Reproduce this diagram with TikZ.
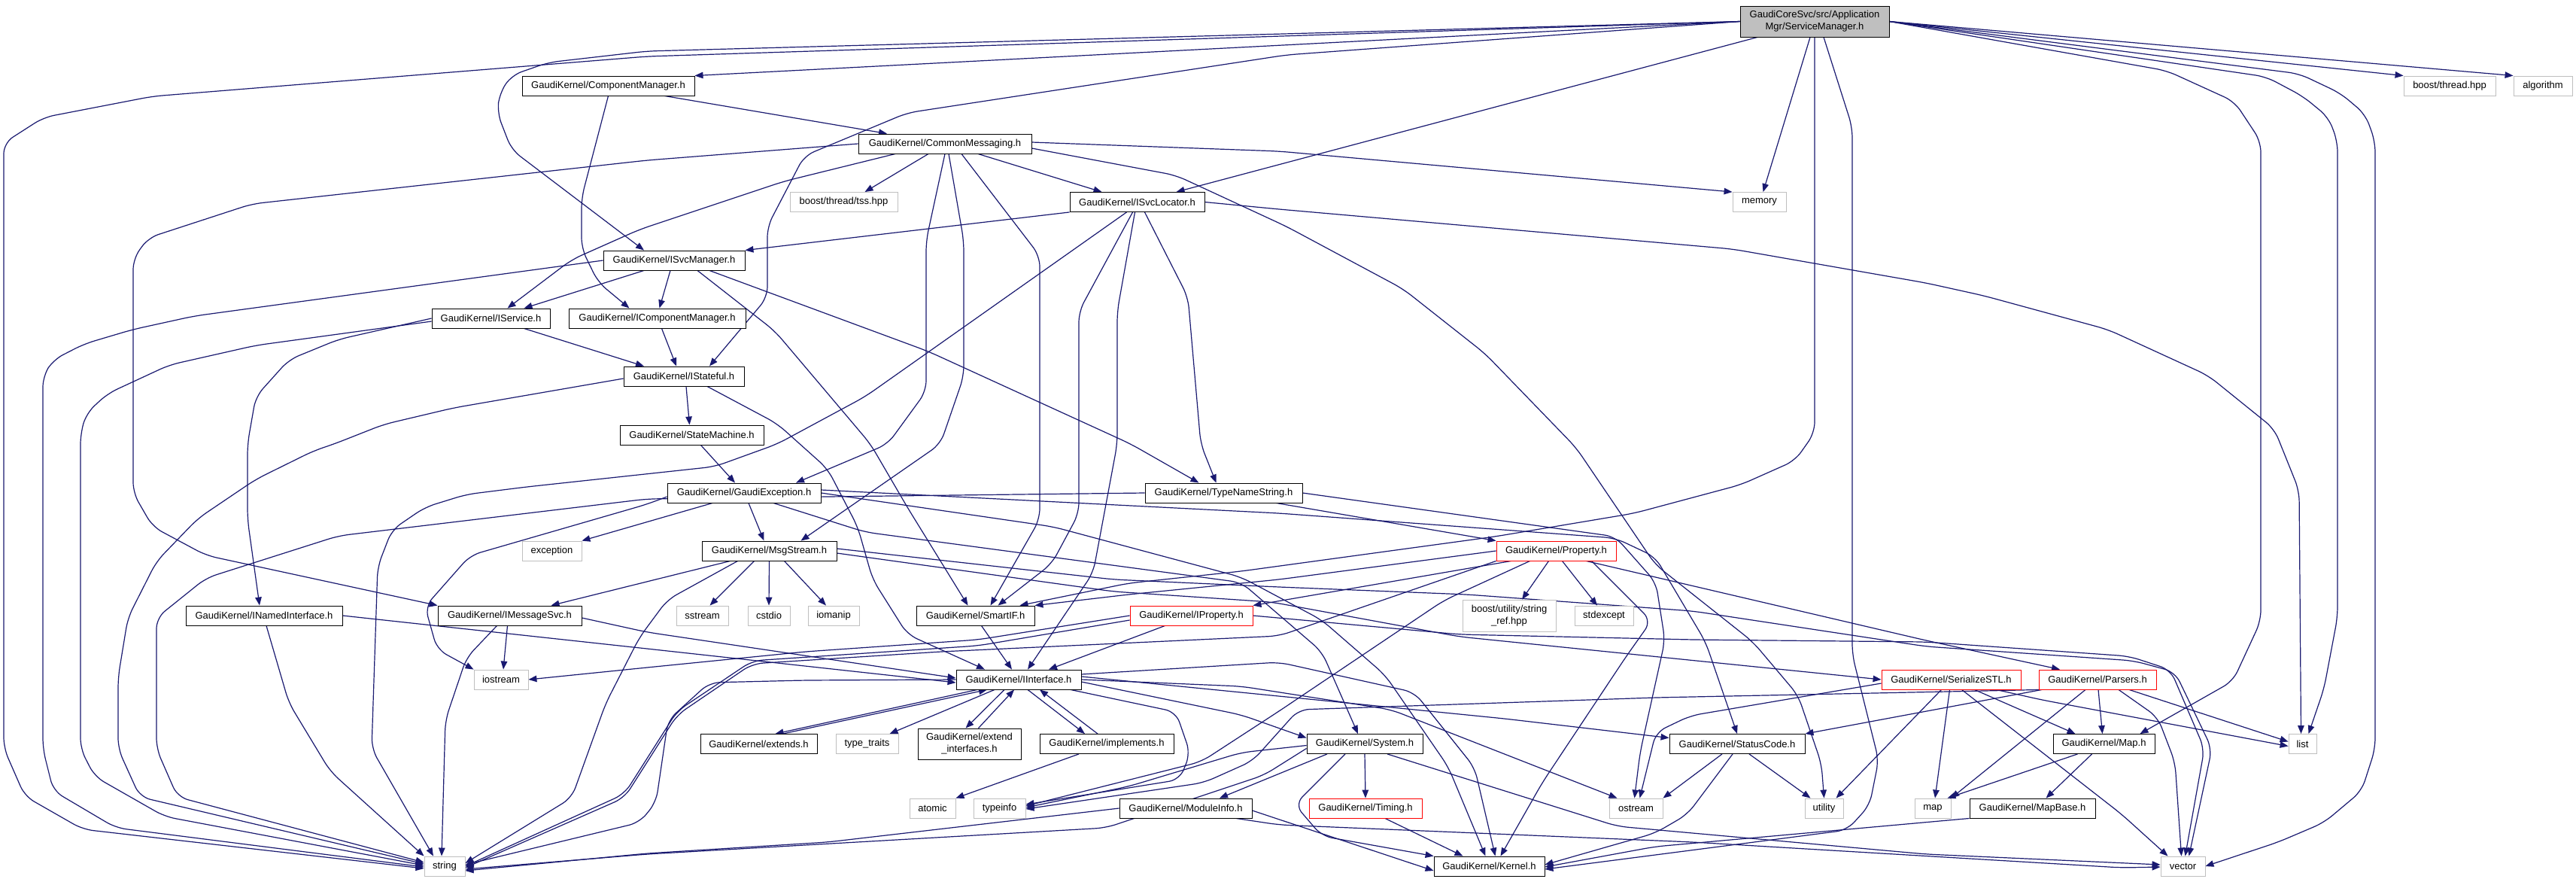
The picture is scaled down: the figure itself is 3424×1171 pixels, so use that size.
\documentclass[tikz,border=0pt]{standalone}
\usepackage{fontspec}
\setmainfont{Liberation Sans}
\usetikzlibrary{arrows.meta}
\definecolor{edgecol}{HTML}{191970}
\definecolor{extgray}{HTML}{BFBFBF}
\pgfdeclarelayer{bg}
\pgfsetlayers{bg,main}
\tikzset{
 nd/.style={rectangle, draw=black, fill=white, line width=0.9pt, inner sep=0pt, minimum height=26pt, font=\fontsize{13}{16}\selectfont, align=center},
 ext/.style={nd, draw=extgray},
 trunc/.style={nd, draw=red},
 rootnd/.style={nd, fill=extgray},
 ed/.style={draw=edgecol, line width=1.2pt, -{Triangle[length=11pt,width=8.5pt]}, rounded corners=14pt},
}
\begin{document}
\begin{tikzpicture}[x=1pt,y=-1pt]
\path[use as bounding box] (0,0) rectangle (3424,1171);
% nodes
\node[rootnd, minimum width=198pt, minimum height=41pt] (main) at (2412,28.5) {GaudiCoreSvc/src/Application\\Mgr/ServiceManager.h};
\node[nd, minimum width=229pt] (CM) at (808.5,114) {GaudiKernel/ComponentManager.h};
\node[ext, minimum width=122pt] (bthread) at (3256,114) {boost/thread.hpp};
\node[ext, minimum width=78pt] (algorithm) at (3380,114) {algorithm};
\node[nd, minimum width=230pt] (CMsg) at (1256,191) {GaudiKernel/CommonMessaging.h};
\node[ext, minimum width=143pt] (tss) at (1121.5,268.5) {boost/thread/tss.hpp};
\node[nd, minimum width=179pt] (SL) at (1511.5,268.5) {GaudiKernel/ISvcLocator.h};
\node[ext, minimum width=71pt] (memory) at (2338.5,268.5) {memory};
\node[nd, minimum width=188pt] (SM) at (896,346) {GaudiKernel/ISvcManager.h};
\node[nd, minimum width=157pt] (IService) at (652.5,423) {GaudiKernel/IService.h};
\node[nd, minimum width=235pt] (ICM) at (873.5,423) {GaudiKernel/IComponentManager.h};
\node[nd, minimum width=160pt] (IStateful) at (909,500) {GaudiKernel/IStateful.h};
\node[nd, minimum width=191pt] (StateM) at (919.5,578) {GaudiKernel/StateMachine.h};
\node[nd, minimum width=204pt] (GE) at (989,655) {GaudiKernel/GaudiException.h};
\node[nd, minimum width=209pt] (TNS) at (1626.5,655) {GaudiKernel/TypeNameString.h};
\node[ext, minimum width=79pt] (exception) at (733.5,732) {exception};
\node[nd, minimum width=179pt] (MsgS) at (1022.5,732) {GaudiKernel/MsgStream.h};
\node[trunc, minimum width=159pt] (Prop) at (2068.5,732) {GaudiKernel/Property.h};
\node[nd, minimum width=208pt] (INamed) at (351,818) {GaudiKernel/INamedInterface.h};
\node[nd, minimum width=191pt] (IMsgSvc) at (677.5,818) {GaudiKernel/IMessageSvc.h};
\node[ext, minimum width=69pt] (sstream) at (933.5,818) {sstream};
\node[ext, minimum width=56pt] (cstdio) at (1022,818) {cstdio};
\node[ext, minimum width=68pt] (iomanip) at (1108,818) {iomanip};
\node[nd, minimum width=157pt] (SmartIF) at (1296.5,818) {GaudiKernel/SmartIF.h};
\node[trunc, minimum width=163pt] (IProp) at (1583.5,818) {GaudiKernel/IProperty.h};
\node[ext, minimum width=124pt, minimum height=42pt] (strref) at (2006,818) {boost/utility/string\\\_ref.hpp};
\node[ext, minimum width=78pt] (stdexcept) at (2132,818) {stdexcept};
\node[ext, minimum width=72pt] (iostream) at (666,903) {iostream};
\node[nd, minimum width=166pt] (II) at (1354,903) {GaudiKernel/IInterface.h};
\node[trunc, minimum width=185pt] (SerSTL) at (2593.5,903) {GaudiKernel/SerializeSTL.h};
\node[trunc, minimum width=156pt] (Parsers) at (2788,903) {GaudiKernel/Parsers.h};
\node[nd, minimum width=155pt] (extends) at (1008.5,988.5) {GaudiKernel/extends.h};
\node[ext, minimum width=83pt] (typetraits) at (1152.5,988.5) {type\_traits};
\node[nd, minimum width=137pt, minimum height=41pt] (extif) at (1288.5,988.5) {GaudiKernel/extend\\\_interfaces.h};
\node[nd, minimum width=178pt] (impl) at (1471,988.5) {GaudiKernel/implements.h};
\node[nd, minimum width=154pt] (System) at (1814,988.5) {GaudiKernel/System.h};
\node[nd, minimum width=180pt] (SC) at (2309,988.5) {GaudiKernel/StatusCode.h};
\node[nd, minimum width=135pt] (Map) at (2796.5,988.5) {GaudiKernel/Map.h};
\node[ext, minimum width=37pt] (list) at (3060.5,988.5) {list};
\node[ext, minimum width=61pt] (atomic) at (1239.5,1074) {atomic};
\node[ext, minimum width=69pt] (typeinfo) at (1328.5,1074) {typeinfo};
\node[nd, minimum width=176pt] (ModInfo) at (1576,1074) {GaudiKernel/ModuleInfo.h};
\node[trunc, minimum width=150pt] (Timing) at (1815,1074) {GaudiKernel/Timing.h};
\node[ext, minimum width=71pt] (ostream) at (2174.5,1074) {ostream};
\node[ext, minimum width=51pt] (utility) at (2424.5,1074) {utility};
\node[ext, minimum width=48pt] (map) at (2569,1074) {map};
\node[nd, minimum width=167pt] (MapBase) at (2701.5,1074) {GaudiKernel/MapBase.h};
\node[ext, minimum width=54pt] (string) at (591,1151) {string};
\node[nd, minimum width=147pt] (Kernel) at (1979.5,1151) {GaudiKernel/Kernel.h};
\node[ext, minimum width=59pt] (vector) at (2901.5,1151) {vector};

\begin{pgfonlayer}{bg}
\fill[white] (0,0) rectangle (3424,1171);
% ServiceManager.h
\draw[ed] (main.west) -- (860,75) -- (203,128) -- (58,156) -- (5,190) -- (5,994) -- (33,1058) -- (110,1102) -- ([yshift=-3pt]string.west);
\draw[ed] (main.west) -- (CM.north east);
\draw[ed] (main.west) -- (860,68) -- (729,83) -- (680,100) -- (664,124) -- (661,150) -- (680,199) -- ([xshift=-40pt]SM.north);
\draw[ed] (main.west) -- (1710,73) -- (1206,150) -- (1069,207) -- (1020,301) -- (1020,395) -- ([xshift=34pt]IStateful.north);
\draw[ed] ([xshift=-76pt]main.south) -- ([xshift=52pt]SL.north);
\draw[ed] ([xshift=-6pt]main.south) -- ([xshift=5pt]memory.north);
\draw[ed] (main.south) -- (2412,575) -- (2386,612) -- (2314,644) -- (2172,682) -- (1987,713) -- (1650,759) -- (1500,775) -- ([xshift=-20pt]SmartIF.north east);
\draw[ed] ([xshift=12pt]main.south) -- (2462,169) -- (2462,870) -- (2497,1010) -- (2485,1070) -- (2455,1103) -- ([yshift=-4pt]Kernel.east);
\draw[ed] (main.east) -- (2880,94) -- (2970,135) -- (3005,188) -- (3005,825) -- (2968,905) -- ([xshift=-20pt]Map.north east);
\draw[ed] (main.east) -- (3012,102) -- (3061,128) -- (3095,156) -- (3107,188) -- (3107,820) -- (3089,915) -- ([xshift=8pt]list.north);
\draw[ed] (main.east) -- (3056,98) -- (3111,124) -- (3144,152) -- (3157,188) -- (3157,995) -- (3139,1051) -- (3089,1093) -- (3028,1119) -- (vector.east);
\draw[ed] (main.east) -- (bthread.north west);
\draw[ed] (main.east) -- (algorithm.north west);
% ComponentManager.h
\draw[ed] ([xshift=75pt]CM.south) -- ([xshift=-77pt]CMsg.north);
\draw[ed] (CM.south) -- (773,263) -- (773,330) -- (795,375) -- ([xshift=-37pt]ICM.north);
% CommonMessaging.h
\draw[ed] ([xshift=-66pt]CMsg.south) -- (1042,241) -- (850,305) -- (760,345) -- ([xshift=22pt]IService.north);
\draw[ed] (CMsg.west) -- (860,213) -- (335,271) -- (197,316) -- (177,344) -- (177,655) -- (203,700) -- (274,738) -- (IMsgSvc.north west);
\draw[ed] ([xshift=-22pt]CMsg.south) -- ([xshift=28pt]tss.north);
\draw[ed] (CMsg.south) -- (1231,320) -- (1231,520) -- (1180,590) -- ([xshift=69pt]GE.north);
\draw[ed] ([xshift=5pt]CMsg.south) -- (1281,320) -- (1281,500) -- (1250,590) -- ([xshift=42pt]MsgS.north);
\draw[ed] ([xshift=22pt]CMsg.south) -- (1382,340) -- (1382,690) -- ([xshift=20pt]SmartIF.north);
\draw[ed] ([xshift=44pt]CMsg.south) -- ([xshift=-47pt]SL.north);
\draw[ed] ([yshift=2pt]CMsg.east) -- (1700,201) -- (memory.north west);
\draw[ed] ([yshift=-6pt]CMsg.east) -- (1563,233) -- (1710,301) -- (1865,384) -- (1974,470) -- (2095,595) -- (2200,750) -- (2330,853) -- (2390,924) -- (2421,1015) -- (utility.north);
% ISvcLocator.h
\draw[ed] (SL.south west) -- (SM.north east);
\draw[ed] ([xshift=-14pt]SL.south) -- (1150,527) -- (1033,590) -- (950,620) -- (700,647) -- (620,657) -- (565,674) -- (521,704) -- (502,753) -- (494,995) -- ([xshift=-15pt]string.north);
\draw[ed] ([xshift=-6pt]SL.south) -- (1434,414) -- (1434,682) -- (1398,749) -- ([xshift=30pt]SmartIF.north);
\draw[ed] ([xshift=-3pt]SL.south) -- (1485,414) -- (1485,590) -- (1453,761) -- ([xshift=12pt]II.north);
\draw[ed] ([xshift=10pt]SL.south) -- (1579,395) -- (1596,590) -- ([xshift=-10pt]TNS.north);
\draw[ed] (SL.east) -- (1700,278) -- (2303,331) -- (2560,376) -- (2637,393) -- (2802,438) -- (2935,499) -- (3023,570) -- (3056,652) -- ([xshift=-2pt]list.north);
% ISvcManager.h
\draw[ed] ([xshift=-40pt]SM.south) -- ([xshift=44pt]IService.north);
\draw[ed] ([xshift=-5pt]SM.south) -- ([xshift=3pt]ICM.north);
\draw[ed] (SM.west) -- (258,420) -- (176,438) -- (112,457) -- (71,478) -- (57,500) -- (57,995) -- (71,1051) -- (154,1100) -- ([yshift=-1pt]string.west);
\draw[ed] ([xshift=31pt]SM.south) -- (1030,440) -- (1157,590) -- (1206,674) -- ([xshift=-10pt]SmartIF.north);
\draw[ed] ([xshift=47pt]SM.south) -- (1234,467) -- (1503,590) -- ([xshift=-33pt]TNS.north);
% IService.h
\draw[ed] ([xshift=44pt]IService.south) -- ([xshift=-53pt]IStateful.north);
\draw[ed] (IService.west) -- (450,451) -- (384,478) -- (340,527) -- (329,590) -- (329,690) -- ([xshift=-6pt]INamed.north);
\draw[ed] ([yshift=-4pt]IService.west) -- (340,459) -- (225,485) -- (143,523) -- (115,549) -- (107,576) -- (107,995) -- (126,1032) -- (219,1085) -- ([yshift=1pt]string.west);
% IComponentManager.h
\draw[ed] ([xshift=6pt]ICM.south) -- ([xshift=-10pt]IStateful.north);
% IStateful.h
\draw[ed] ([xshift=3pt]IStateful.south) -- ([xshift=-3pt]StateM.north);
\draw[ed] ([yshift=-3pt]IStateful.west) -- (603,542) -- (510,564) -- (444,590) -- (417,599) -- (340,637) -- (263,689) -- (208,746) -- (170,821) -- (157,900) -- (157,995) -- (186,1059) -- ([yshift=3pt]string.west);
\draw[ed] ([xshift=31pt]IStateful.south) -- (1033,563) -- (1100,623) -- (1140,700) -- (1160,770) -- (1206,843) -- ([xshift=-45pt]II.north);
% StateMachine.h
\draw[ed] ([xshift=12pt]StateM.south) -- ([xshift=-12pt]GE.north);
% GaudiException.h
\draw[ed] ([xshift=-42pt]GE.south) -- (exception.north east);
\draw[ed] ([xshift=6pt]GE.south) -- ([xshift=-7pt]MsgS.north);
\draw[ed] ([yshift=-5pt]GE.west) -- (860,670) -- (625,738) -- (565,806) -- (581,863) -- (iostream.north west);
\draw[ed] (GE.east) -- (1400,700) -- (1650,767) -- (1757,824) -- (1841,897) -- (1925,1019) -- ([xshift=-5pt]Kernel.north);
\draw[ed] ([yshift=4pt]GE.east) -- (1700,682) -- (2147,715) -- (2200,740) -- (2267,853) -- (SC.north);
\draw[ed] ([xshift=39pt]GE.south) -- (1150,707) -- (1650,774) -- (1757,866) -- ([xshift=-9pt]System.north);
% TypeNameString.h
\draw[ed] ([xshift=70pt]TNS.south) -- (Prop.north west);
\draw[ed] (TNS.east) -- (2147,713) -- (2201,774) -- (2213,851) -- (2180,1000) -- ([xshift=-2pt]ostream.north);
\draw[ed] (TNS.west) -- (1100,660) -- (860,663) -- (450,712) -- (274,768) -- (208,821) -- (208,995) -- (236,1059) -- ([yshift=5pt]string.west);
% MsgStream.h
\draw[ed] ([xshift=-52pt]MsgS.south) -- ([xshift=55pt]IMsgSvc.north);
\draw[ed] ([xshift=-20pt]MsgS.south) -- ([xshift=10pt]sstream.north);
\draw[ed] (MsgS.south) -- (cstdio.north);
\draw[ed] ([xshift=20pt]MsgS.south) -- ([xshift=-10pt]iomanip.north);
\draw[ed] ([xshift=-42pt]MsgS.south) -- (887,797) -- (850,847) -- (805,935) -- (760,1060) -- ([yshift=4pt]string.east);
\draw[ed] ([yshift=-3pt]MsgS.east) -- (1480,786) -- (1690,800) -- (1940,846) -- (SerSTL.west);
\draw[ed] ([yshift=3pt]MsgS.east) -- (1480,770) -- (1700,780) -- (1950,790) -- (2250,812) -- (2560,859) -- (2836,878) -- (2891,893) -- (2940,995) -- ([xshift=8pt]vector.north);
% SmartIF / IProperty
\draw[ed] ([xshift=8pt]SmartIF.south) -- ([xshift=-9pt]II.north);
\draw[ed] ([xshift=-35pt]IProp.south) -- ([xshift=40pt]II.north);
\draw[ed] (IProp.west) -- (1300,850) -- (1070,866) -- (860,887) -- (iostream.east);
\draw[ed] ([yshift=-6pt]IProp.west) -- (1300,858) -- (1000,878) -- (900,945) -- (830,1055) -- ([yshift=0pt]string.east);
\draw[ed] (IProp.east) -- (1940,843) -- (2250,850) -- (2560,853) -- (2830,872) -- (2885,890) -- (2930,995) -- ([xshift=3pt]vector.north);
% IInterface.h
\draw[ed] ([xshift=-55pt]II.south) -- ([xshift=22pt]extends.north);
\draw[ed] ([xshift=32pt]extends.north) -- ([xshift=-42pt]II.south);
\draw[ed] ([xshift=-32pt]II.south) -- ([xshift=30pt]typetraits.north);
\draw[ed] ([xshift=-19pt]II.south) -- ([xshift=-5pt]extif.north);
\draw[ed] ([xshift=12pt]extif.north) -- ([xshift=-6pt]II.south);
\draw[ed] ([xshift=12pt]II.south) -- ([xshift=-29pt]impl.north);
\draw[ed] ([xshift=-12pt]impl.north) -- ([xshift=28pt]II.south);
\draw[ed] ([xshift=-37pt]impl.south) -- (atomic.north east);
\draw[ed] ([xshift=69pt]II.south) -- (1563,946) -- (1582,1001) -- (1568,1036) -- ([yshift=5pt]typeinfo.east);
\draw[ed] ([yshift=-3pt]II.east) -- (1650,950) -- ([yshift=8pt]System.west);
\draw[ed] ([yshift=4pt]II.east) -- (1750,930) -- (2000,955) -- ([yshift=8pt]SC.west);
\draw[ed] ([yshift=7pt]II.east) -- (1700,880) -- (1880,920) -- (1960,1020) -- ([xshift=8pt]Kernel.north);
\draw[ed] (II.east) -- (1650,912) -- (1849,943) -- ([xshift=-25pt]ostream.north);
\draw[ed] (II.west) -- (1069,904) -- (943,907) -- (888,957) -- (872,1066) -- (850,1093) -- ([yshift=2pt]string.east);
% INamedInterface / IMessageSvc
\draw[ed] (INamed.east) -- (860,862) -- ([yshift=-4pt]II.west);
\draw[ed] ([xshift=3pt]INamed.south) -- (384,934) -- (439,1025) -- (string.north west);
\draw[ed] ([yshift=-3pt]IMsgSvc.east) -- (860,840) -- ([yshift=2pt]II.west);
\draw[ed] ([xshift=-3pt]IMsgSvc.south) -- ([xshift=3pt]iostream.north);
\draw[ed] ([xshift=-17pt]IMsgSvc.south) -- (620,874) -- (592,957) -- ([xshift=-4pt]string.north);
% System.h
\draw[ed] (System.south) -- (Timing.north);
\draw[ed] ([xshift=-50pt]System.south) -- ([xshift=45pt]ModInfo.north);
\draw[ed] ([xshift=-26pt]System.south) -- (1721,1069) -- (1757,1111) -- (Kernel.north west);
\draw[ed] ([yshift=-6pt]System.west) -- (1680,1030) -- (1470,1100) -- (860,1135) -- ([yshift=-4pt]string.east);
\draw[ed] ([yshift=-2pt]System.west) -- (1650,1000) -- (1500,1045) -- ([yshift=1pt]typeinfo.east);
\draw[ed] ([xshift=30pt]System.south) -- (2150,1098) -- (2560,1135) -- ([yshift=2pt]vector.west);
% Timing / ModuleInfo
\draw[ed] ([xshift=26pt]Timing.south) -- ([xshift=-35pt]Kernel.north);
\draw[ed] (ModInfo.west) -- (1100,1119) -- (860,1134) -- ([yshift=-6pt]string.east);
\draw[ed] ([yshift=-3pt]ModInfo.east) -- ([yshift=-6pt]Kernel.west);
\draw[ed] ([xshift=67pt]ModInfo.south) -- (1700,1096) -- (2250,1119) -- (2820,1153) -- ([yshift=-1pt]vector.west);
% Property.h
\draw[ed] ([xshift=-60pt]Prop.south) -- (IProp.north east);
\draw[ed] ([xshift=-10pt]Prop.south) -- ([xshift=17pt]strref.north);
\draw[ed] ([xshift=8pt]Prop.south) -- ([xshift=-9pt]stdexcept.north);
\draw[ed] ([xshift=47pt]Prop.south) -- (2195,825) -- (2161,873) -- (2050,1040) -- ([xshift=15pt]Kernel.north);
\draw[ed] (Prop.west) -- (1700,770) -- (1500,790) -- (SmartIF.north east);
\draw[ed] ([xshift=40pt]Prop.south) -- (2560,851) -- ([xshift=-50pt]Parsers.north);
\draw[ed] (Prop.south west) -- (1700,845) -- (1250,866) -- (1000,882) -- (900,950) -- (830,1060) -- ([yshift=-2pt]string.east);
\draw[ed] ([xshift=-35pt]Prop.south) -- (1919,798) -- (1700,945) -- (1597,1012) -- ([yshift=3pt]typeinfo.east);
% SerializeSTL.h
\draw[ed] ([yshift=-5pt]SerSTL.west) -- (2247,951) -- (2201,973) -- ([xshift=5pt]ostream.north);
\draw[ed] ([xshift=-13pt]SerSTL.south) -- ([xshift=16pt]utility.north);
\draw[ed] ([xshift=-2pt]SerSTL.south) -- ([xshift=3pt]map.north);
\draw[ed] ([xshift=14pt]SerSTL.south) -- (2820,1082) -- ([xshift=-20pt]vector.north);
\draw[ed] ([xshift=31pt]SerSTL.south) -- ([xshift=-38pt]Map.north);
\draw[ed] ([xshift=60pt]SerSTL.south) -- (2714,930) -- ([yshift=-3pt]list.west);
% Parsers.h
\draw[ed] ([xshift=-74pt]Parsers.south) -- (SC.north east);
\draw[ed] ([xshift=-16pt]Parsers.south) -- (map.north east);
\draw[ed] ([xshift=1pt]Parsers.south) -- ([xshift=-2pt]Map.north);
\draw[ed] ([xshift=28pt]Parsers.south) -- (2868,953) -- (2891,1013) -- ([xshift=-2pt]vector.north);
\draw[ed] ([xshift=42pt]Parsers.south) -- ([yshift=3pt]list.west);
\draw[ed] ([xshift=-76pt]Parsers.south) -- (2200,927) -- (1726,943) -- (1665,1011) -- (1600,1040) -- ([yshift=-1pt]typeinfo.east);
% Map.h / MapBase.h
\draw[ed] ([xshift=-35pt]Map.south) -- ([xshift=-5pt]map.north east);
\draw[ed] ([xshift=-16pt]Map.south) -- ([xshift=18pt]MapBase.north);
\draw[ed] (MapBase.south west) -- (2200,1125) -- ([yshift=-1pt]Kernel.east);
% StatusCode.h
\draw[ed] ([xshift=-20pt]SC.south) -- (ostream.north east);
\draw[ed] ([xshift=16pt]SC.south) -- ([xshift=-18pt]utility.north);
\draw[ed] ([xshift=-6pt]SC.south) -- (2243,1082) -- (2200,1107) -- ([yshift=2pt]Kernel.east);
\end{pgfonlayer}
\end{tikzpicture}
\end{document}
